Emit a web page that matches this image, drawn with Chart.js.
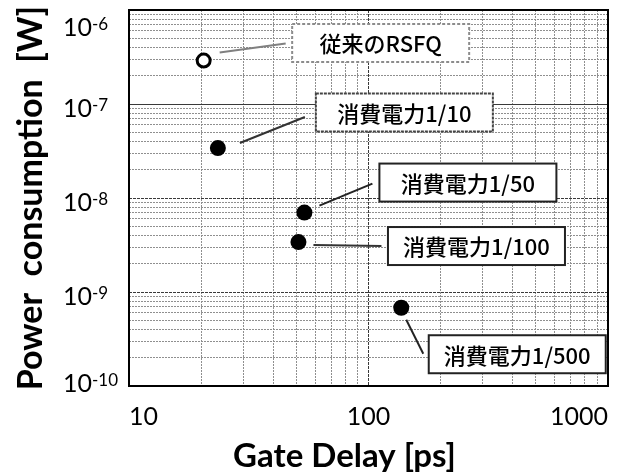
<!DOCTYPE html>
<html>
<head>
<meta charset="utf-8">
<script src="https://cdn.jsdelivr.net/npm/chart.js@4.4.1/dist/chart.umd.min.js"></script>
<style>
  html, body { margin: 0; padding: 0; background: #fff; }
  canvas { display: block; }
</style>
</head>
<body>
<canvas id="chart" width="624" height="475"></canvas>
<script>
// Gate delay vs. power consumption of SFQ gate variants
const seriesNames = ['従来のRSFQ', '消費電力1/10', '消費電力1/50', '消費電力1/100', '消費電力1/500'];
const gateDelayPs = [20.5, 23.5, 54, 51, 137];
const powerW = [2.9e-7, 3.4e-8, 7.0e-9, 3.4e-9, 6.8e-10];

// Axis decades and their labels
const xDecades = [10, 100, 1000];
const xTickLabels = ['10', '100', '1000'];
const yDecadeExponents = [-10, -9, -8, -7, -6];

// Callout boxes: centre offset from the marker, leader line start/end offsets
const BOX_W = 177, BOX_H = 38;
const calloutStyle = [
  { box: [177, -17.5], from: [16, -8], to: [82, -17], border: '#8c8c8c', dash: [3, 2], lead: '#808080' },
  { box: [186.5, -35.5], from: [22, -5], to: [87, -31], border: '#444', dash: [3, 1], lead: '#333' },
  { box: [163.5, -30], from: [15, -7], to: [68, -29], border: '#222', dash: [], lead: '#222' },
  { box: [178, 4], from: [15, 3], to: [83, 4], border: '#222', dash: [], lead: '#333' },
  { box: [116, 46.5], from: [5, 12], to: [22, 46], border: '#222', dash: [], lead: '#222' }
];

const isDecade = v => Math.abs(Math.log10(v) - Math.round(Math.log10(v))) < 1e-9;

// Full 1..9 grid ticks within each decade
function decadeTicks(firstExp, lastExp) {
  const out = [];
  for (let e = firstExp; e < lastExp; e++) {
    for (let m = 1; m <= 9; m++) out.push({ value: m * Math.pow(10, e) });
  }
  out.push({ value: Math.pow(10, lastExp) });
  return out;
}

const gridColor = ctx => (ctx.tick && isDecade(ctx.tick.value)) ? '#3a3a3a' : '#8f8f8f';
const xGridDash = ctx => (ctx.tick && isDecade(ctx.tick.value)) ? [3, 1] : [2, 1];
// the 1e-7 row is drawn as a continuous line
const yGridDash = ctx => {
  if (!ctx.tick) return [2, 1];
  if (Math.abs(Math.log10(ctx.tick.value) + 7) < 1e-9) return [];
  return isDecade(ctx.tick.value) ? [3, 1] : [2, 1];
};

const decorations = {
  id: 'decorations',
  afterDatasetsDraw(chart) {
    const ctx = chart.ctx;
    const meta = chart.getDatasetMeta(0);
    ctx.save();
    meta.data.forEach((pt, i) => {
      const st = calloutStyle[i];
      const px = pt.x, py = pt.y;
      // leader line
      ctx.beginPath();
      ctx.setLineDash([]);
      ctx.strokeStyle = st.lead;
      ctx.lineWidth = 2;
      ctx.moveTo(px + st.from[0], py + st.from[1]);
      ctx.lineTo(px + st.to[0], py + st.to[1]);
      ctx.stroke();
      // box
      const cx = px + st.box[0], cy = py + st.box[1];
      const bx = cx - BOX_W / 2, by = cy - BOX_H / 2;
      ctx.fillStyle = '#fff';
      ctx.fillRect(bx, by, BOX_W, BOX_H);
      ctx.setLineDash(st.dash);
      ctx.strokeStyle = st.border;
      ctx.lineWidth = 2;
      ctx.strokeRect(bx, by, BOX_W, BOX_H);
      ctx.setLineDash([]);
      // text
      ctx.fillStyle = '#000';
      ctx.font = '500 22px "Noto Sans CJK JP", "Noto Sans", sans-serif';
      ctx.textAlign = 'center';
      ctx.textBaseline = 'middle';
      ctx.fillText(seriesNames[i], cx, cy + 1);
    });
    ctx.restore();
  },
  afterDraw(chart) {
    const ctx = chart.ctx;
    const a = chart.chartArea;
    const ys = chart.scales.y;
    ctx.save();
    // plot frame
    ctx.strokeStyle = '#000';
    ctx.lineWidth = 2;
    ctx.strokeRect(a.left, a.top, a.right - a.left, a.bottom - a.top);
    // y decade labels with superscript exponents
    ctx.fillStyle = '#000';
    ctx.textAlign = 'left';
    ctx.textBaseline = 'alphabetic';
    yDecadeExponents.forEach(exp => {
      let cy = ys.getPixelForValue(Math.pow(10, exp)) + 4;
      cy = Math.min(Math.max(cy, a.top + 17), a.bottom - 3);
      const x0 = 63;
      ctx.font = '25px Lato, "Open Sans", sans-serif';
      ctx.fillText('10', x0, cy + 9);
      const w = ctx.measureText('10').width;
      ctx.font = '17px Lato, "Open Sans", sans-serif';
      ctx.fillText(String(exp), x0 + w, cy + 3);
    });
    ctx.restore();
  }
};

new Chart(document.getElementById('chart'), {
  type: 'scatter',
  data: {
    datasets: [{
      data: gateDelayPs.map((x, i) => ({ x, y: powerW[i] })),
      pointRadius: c => c.dataIndex === 0 ? 6.5 : 8,
      pointBackgroundColor: c => c.dataIndex === 0 ? '#fff' : '#000',
      pointBorderColor: '#000',
      pointBorderWidth: c => c.dataIndex === 0 ? 3 : 0
    }]
  },
  options: {
    responsive: false,
    animation: false,
    devicePixelRatio: 1,
    layout: { padding: { top: 10, right: 7, left: 0, bottom: 0 } },
    plugins: { legend: { display: false }, tooltip: { enabled: false } },
    scales: {
      x: {
        type: 'logarithmic',
        min: 10,
        max: 1000,
        afterBuildTicks: s => { s.ticks = decadeTicks(1, 3); },
        afterFit: s => { s.height = 89; },
        grid: { color: gridColor, lineWidth: 1, drawTicks: false },
        border: { display: false, dash: xGridDash },
        ticks: {
          autoSkip: false,
          maxRotation: 0,
          align: 'inner',
          padding: 16,
          color: '#000',
          font: { family: 'Lato, "Open Sans", sans-serif', size: 25 },
          callback: v => {
            const k = xDecades.findIndex(d => Math.abs(d - v) < 1e-6);
            return k >= 0 ? xTickLabels[k] : '';
          }
        },
        title: {
          display: true,
          text: 'Gate Delay [ps]      ',
          color: '#000',
          font: { family: 'Lato, "Open Sans", sans-serif', size: 33, weight: 'bold', lineHeight: 1 },
          padding: { top: 0, bottom: 2 }
        }
      },
      y: {
        type: 'logarithmic',
        min: 1e-10,
        max: 1e-6,
        afterBuildTicks: s => { s.ticks = decadeTicks(-10, -6); },
        afterFit: s => { s.width = 129; },
        grid: { color: gridColor, lineWidth: 1, drawTicks: false },
        border: { display: false, dash: yGridDash },
        ticks: { display: false },
        title: {
          display: true,
          text: 'Power  consumption  [W]',
          color: '#000',
          font: { family: 'Lato, "Open Sans", sans-serif', size: 34, weight: 'bold', lineHeight: 1 },
          padding: { top: 14, bottom: 0 }
        }
      }
    }
  },
  plugins: [decorations]
});
</script>
</body>
</html>
